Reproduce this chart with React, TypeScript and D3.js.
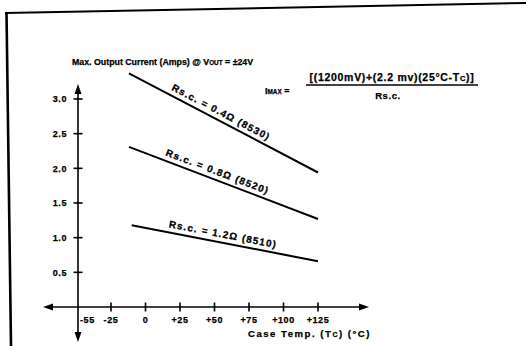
import * as d3 from "d3";
import React from "react";

// curves
const seriesLabels = ["Rs.c. = 0.4Ω (8530)", "Rs.c. = 0.8Ω (8520)", "Rs.c. = 1.2Ω (8510)"];
const tempStart = [-12, -12, -10];
const tempEnd = [125, 125, 125];
const currentStart = [3.37, 2.31, 1.18];
const currentEnd = [1.94, 1.27, 0.66];
const labelTemp = [52, 50, 55];

const yTicks = [0.5, 1.0, 1.5, 2.0, 2.5, 3.0];
const yTickLabels = ["0.5", "1.0", "1.5", "2.0", "2.5", "3.0"];
const xTicks = [-55, -25, 0, 25, 50, 75, 100, 125];
const xTickLabels = ["-55", "-25", "0", "+25", "+50", "+75", "+100", "+125"];

const W = 526;
const H = 346;
const font = "'Liberation Sans', Arial, sans-serif";

const Arrow = ({ x, y, dir }: { x: number; y: number; dir: "l" | "r" | "u" | "d" }) => {
  const len = 10;
  const half = 3.5;
  let pts = "";
  if (dir === "l") pts = `${x},${y} ${x + len},${y - half} ${x + len},${y + half}`;
  if (dir === "r") pts = `${x},${y} ${x - len},${y - half} ${x - len},${y + half}`;
  if (dir === "u") pts = `${x},${y} ${x - half},${y + len} ${x + half},${y + len}`;
  if (dir === "d") pts = `${x},${y} ${x - half},${y - len} ${x + half},${y - len}`;
  return <polygon points={pts} fill="#000" />;
};

export default function App() {
  const x = d3.scaleLinear().domain([-55, -25, 125]).range([78, 111, 318]);
  const y = d3.scaleLinear().domain([0, 3]).range([307, 99]);

  const x0 = x(-55);
  const y0 = y(0);
  const axisLeftEnd = x0 - 35;
  const axisRightEnd = x(125) + 51;
  const axisTop = y(3) - 15;
  const axisBottom = y0 + 35;

  const line = d3
    .line<[number, number]>()
    .x((d) => x(d[0]))
    .y((d) => y(d[1]));

  return (
    <svg
      width={W}
      height={H}
      viewBox={`0 0 ${W} ${H}`}
      style={{ position: "absolute", left: 0, top: 0, background: "#fff" }}
      fontFamily={font}
      fontWeight="bold"
    >
      <rect width={W} height={H} fill="#fff" />
      {/* frame of the scanned figure */}
      <line x1={5} y1={13} x2={W} y2={3} stroke="#000" strokeWidth={2} />
      <line x1={6.5} y1={12} x2={11} y2={H} stroke="#000" strokeWidth={2.6} />

      <g stroke="#000" strokeWidth={0.25}>
        {/* title */}
        <text x={72} y={65} fontSize={8.8}>
          Max. Output Current (Amps) @ V<tspan fontSize={6.4}>OUT</tspan> = ±24V
        </text>

        {/* formula */}
        <text x={265} y={94} fontSize={9}>
          I<tspan fontSize={6.4}>MAX</tspan> =
        </text>
        <text x={392} y={81} fontSize={10.5} textAnchor="middle" letterSpacing={0.7}>
          [(1200mV)+(2.2 mv)(25°C-T<tspan fontSize={7.5}>C</tspan>)]
        </text>
        <text x={388} y={99} fontSize={9.5} textAnchor="middle" letterSpacing={0.6}>
          Rs.c.
        </text>

        {yTicks.map((t, i) => (
          <text key={`yl${i}`} x={x0 - 11} y={y(t) + 3.3} fontSize={9} textAnchor="end" letterSpacing={0.6}>
            {yTickLabels[i]}
          </text>
        ))}

        {xTicks.map((t, i) => (
          <text
            key={`xl${i}`}
            x={i === 0 ? x(t) + 2 : x(t)}
            y={y0 + 15.5}
            fontSize={9}
            textAnchor={i === 0 ? "start" : "middle"}
            letterSpacing={0.6}
          >
            {xTickLabels[i]}
          </text>
        ))}

        <text x={248} y={337} fontSize={9.6} letterSpacing={1.5}>
          Case Temp. (T<tspan fontSize={7}>C</tspan>)  (°C)
        </text>
      </g>

      <line x1={306} y1={85} x2={478} y2={85} stroke="#000" strokeWidth={1.4} />

      {/* axes */}
      <line x1={axisLeftEnd + 6} y1={y0} x2={axisRightEnd - 6} y2={y0} stroke="#000" strokeWidth={1.6} />
      <Arrow x={axisLeftEnd} y={y0} dir="l" />
      <Arrow x={axisRightEnd} y={y0} dir="r" />
      <line x1={x0} y1={axisTop + 6} x2={x0} y2={axisBottom - 6} stroke="#000" strokeWidth={1.6} />
      <Arrow x={x0} y={axisTop} dir="u" />
      <Arrow x={x0} y={axisBottom} dir="d" />

      {yTicks.map((t, i) => (
        <line key={`yt${i}`} x1={x0 - 4.5} x2={x0 + 4.5} y1={y(t)} y2={y(t)} stroke="#000" strokeWidth={1.6} />
      ))}
      {xTicks.slice(1).map((t, i) => (
        <line key={`xt${i}`} x1={x(t)} x2={x(t)} y1={y0 - 4.5} y2={y0 + 4.5} stroke="#000" strokeWidth={1.6} />
      ))}

      {/* curves */}
      {seriesLabels.map((label, i) => {
        const pts: [number, number][] = [
          [tempStart[i], currentStart[i]],
          [tempEnd[i], currentEnd[i]],
        ];
        const dx = x(tempEnd[i]) - x(tempStart[i]);
        const dy = y(currentEnd[i]) - y(currentStart[i]);
        const ang = (Math.atan2(dy, dx) * 180) / Math.PI;
        const f = (labelTemp[i] - tempStart[i]) / (tempEnd[i] - tempStart[i]);
        const cur = currentStart[i] + f * (currentEnd[i] - currentStart[i]);
        return (
          <g key={label}>
            <path d={line(pts) ?? ""} fill="none" stroke="#000" strokeWidth={2} />
            <g transform={`translate(${x(labelTemp[i])},${y(cur)}) rotate(${ang})`}>
              <text y={-5} fontSize={9.8} textAnchor="middle" letterSpacing={1.2} stroke="#000" strokeWidth={0.3}>
                {label}
              </text>
            </g>
          </g>
        );
      })}
    </svg>
  );
}
